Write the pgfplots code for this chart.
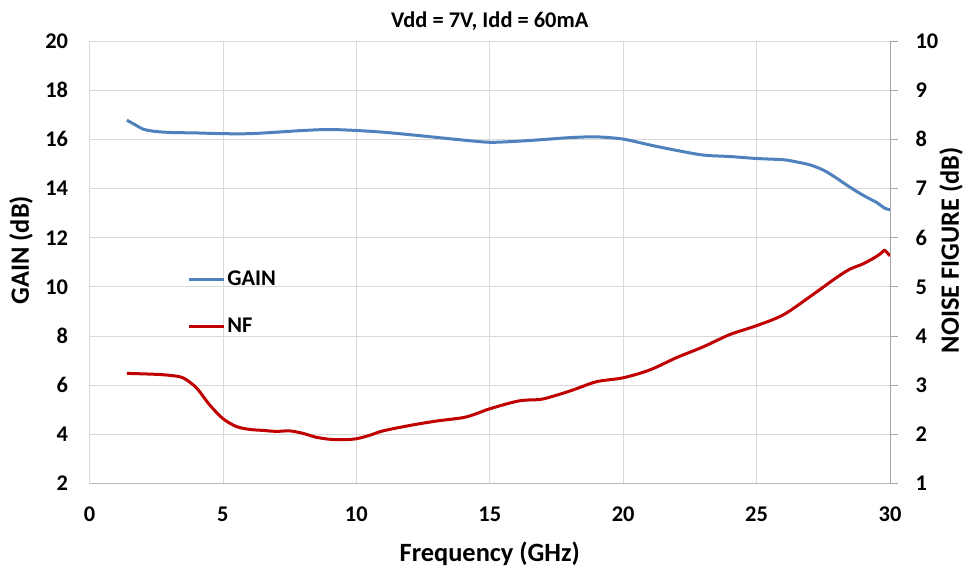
\documentclass[border=0pt]{standalone}
\usepackage{pgfplots}
\pgfplotsset{compat=1.18}
\usepackage{fontspec}
\setmainfont{Carlito}
\definecolor{gainblue}{HTML}{4F81BD}
\definecolor{nfred}{HTML}{C00000}
\definecolor{gridc}{HTML}{D9D9D9}
\definecolor{axc}{HTML}{A6A6A6}
\newcommand{\cf}{\bfseries\fontsize{22.5}{27}\selectfont}
\newcommand{\lf}{\bfseries\fontsize{26.5}{31}\selectfont}
\begin{document}
\begin{tikzpicture}
\useasboundingbox (-89.5bp,-87.5bp) rectangle (885.5bp,483.5bp);
\begin{axis}[
  at={(0,0)}, anchor=south west,
  width=800.5bp, height=442.5bp, scale only axis,
  xmin=0, xmax=30, ymin=2, ymax=20,
  xtick={0,5,...,30}, ytick={2,4,...,20},
  grid=major, major grid style={gridc, line width=0.8bp},
  axis lines*=left,
  x axis line style={axc!80, line width=1bp, -},
  y axis line style={gridc, line width=1bp, -},
  major tick length=0pt,
  /pgf/number format/assume math mode=true,
  tick label style={font=\cf, text=black},
  yticklabel style={xshift=-18bp},
  xticklabel style={yshift=-20bp},
  ylabel={GAIN (dB)},
  every axis y label/.style={at={(axis description cs:0,0.5)}, xshift=-68.5bp, yshift=12bp, rotate=90, anchor=center, font=\lf},
  xlabel={Frequency (GHz)},
  every axis x label/.style={at={(axis description cs:0.5,0)}, yshift=-70bp, anchor=center, font=\lf},
  title={Vdd = 7V, Idd = 60mA}, title style={font=\bfseries\fontsize{22.5}{27}\selectfont, yshift=1bp},
  legend style={draw=none, fill=none, font=\cf, at={(0.122,0.485)}, anchor=north west, row sep=27bp, inner sep=0pt},
  legend cell align=left,
  legend image code/.code={\draw[#1, line width=3bp] (0bp,0bp) -- (35bp,0bp);},
]
\addplot[gainblue, line width=3bp, smooth] coordinates {
(1.4,16.78) (1.7,16.6) (2.0,16.42) (2.4,16.33) (3,16.28) (4,16.26) (5,16.23) (6,16.23)
(7,16.29) (8,16.36) (9,16.40) (10,16.36) (11,16.29) (12,16.19) (13,16.08) (14,15.97)
(15,15.88) (16,15.92) (17,15.99) (18,16.07) (19,16.10) (20,16.01) (21,15.77) (22,15.55)
(23,15.36) (24,15.30) (25,15.22) (26,15.17) (26.5,15.08) (27,14.96) (27.5,14.75)
(28,14.42) (28.5,14.05) (29,13.72) (29.5,13.43) (29.8,13.2) (30,13.14)
};
\addlegendentry{GAIN}
\addlegendimage{nfred}
\addlegendentry{NF}
\end{axis}
\begin{axis}[
  at={(0,0)}, anchor=south west,
  width=800.5bp, height=442.5bp, scale only axis,
  xmin=0, xmax=30, ymin=1, ymax=10,
  ytick={1,...,10},
  axis x line=none,
  axis y line*=right,
  y axis line style={axc, line width=1bp, -},
  ytick style={axc, line width=1bp},
  tick align=outside, major tick length=8bp,
  /pgf/number format/assume math mode=true,
  tick label style={font=\cf, text=black},
  yticklabel style={xshift=14bp},
  ylabel={NOISE FIGURE (dB)},
  every axis y label/.style={at={(axis description cs:1,0.5)}, xshift=61bp, yshift=12bp, rotate=90, anchor=center, font=\lf},
]
\addplot[nfred, line width=3bp, smooth] coordinates {
(1.4,3.24) (2,3.23) (2.5,3.22) (3,3.20) (3.5,3.15) (4,2.95) (4.5,2.6) (5,2.32) (5.5,2.16)
(6,2.10) (6.5,2.08) (7,2.06) (7.5,2.07) (8,2.02) (8.5,1.94) (9,1.90) (9.5,1.89) (10,1.91)
(10.5,1.98) (11,2.07) (12,2.18) (13,2.27) (14,2.34) (14.5,2.42) (15,2.52) (16,2.67)
(16.5,2.70) (17,2.72) (18,2.88) (19,3.07) (20,3.15) (21,3.31) (22,3.56) (23,3.78)
(24,4.03) (25,4.21) (26,4.43) (27,4.80) (28,5.19) (28.5,5.36) (29,5.47) (29.5,5.62)
(29.7,5.70) (29.8,5.74) (30,5.63)
};
\end{axis}
\end{tikzpicture}
\end{document}
